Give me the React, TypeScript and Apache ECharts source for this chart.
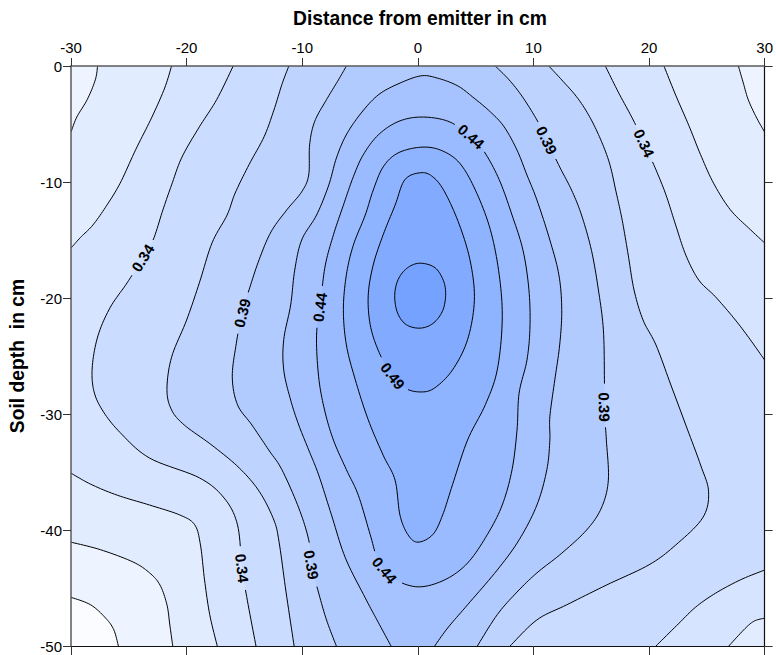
import React, { useEffect, useRef } from "react";
import * as echarts from "echarts";

// ---------- axis extents and ticks ----------
const X_MIN = -30;
const X_MAX = 30;
const X_STEP = 10;
const Y_MIN = -50;
const Y_MAX = 0;
const Y_STEP = 10;

const xTitle = "Distance from emitter in cm";
const yTitle = "Soil depth  in cm";

// ---------- contour levels and band colours ----------
const levels = [0.265, 0.29, 0.315, 0.34, 0.365, 0.39, 0.415, 0.44, 0.465, 0.49, 0.515];
const bandColors = [
  "#fbfcff", "#eef4ff", "#e2ecff", "#d6e4ff", "#cadcff", "#bed4ff",
  "#b2cbff", "#a6c3ff", "#9abbff", "#8eb3ff", "#82aaff", "#76a2ff",
];

// ---------- contour lines: [distance cm, depth cm] ----------
const c265BL = [[-30, -45.8], [-28.3, -46.45], [-27, -47.6], [-26.3, -48.6], [-25.9, -50]];
const c29TL = [[-27.7, 0], [-27.9, -1.2], [-28.6, -2.9], [-29.5, -4.4], [-30, -5.7]];
const c29BL = [[-30, -41.05], [-27.45, -41.7], [-24.65, -42.75], [-23.2, -43.7], [-22.3, -44.75], [-21.7, -46.45], [-21.45, -48.2], [-21.2, -50]];
const c29TR = [[27.73, 0], [28.15, -1.45], [28.58, -2.9], [29.27, -4.4], [30, -5.7]];
const c315L = [[-21.3, 0], [-21.9, -1.9], [-23, -4.4], [-24.4, -7.2], [-25.75, -10.1], [-26.9, -12], [-28.1, -13.7], [-29.2, -14.8], [-30, -15.7]];
const c315BL = [[-30, -35.1], [-28.3, -36.05], [-26, -37], [-23.2, -37.85], [-20.6, -38.7], [-19.3, -39.55], [-18.8, -41.3], [-18.45, -44.3], [-18, -47.3], [-17.35, -50]];
const c315R = [[21.29, 0], [22.3, -2.5], [23.43, -5.1], [24.46, -7.65], [25.58, -10.1], [27.04, -12.4], [28.76, -14.1], [30, -15.25]];
const c315BR = [[30, -47.6], [29.1, -47.85], [28.3, -48.5], [26.9, -50]];
const c34L = [[-15.97, 0], [-17.4, -2.9], [-18.9, -5.25], [-20.4, -7.85], [-21.3, -10.25], [-22.05, -12.4], [-22.9, -15], [-23.8, -16.55], [-25.15, -18.7], [-26.6, -20.8], [-27.65, -23.2], [-28.15, -25.8], [-28.05, -27.9], [-27.3, -29.65], [-25.75, -31.6], [-23.2, -33.8], [-18.9, -35.5], [-16.75, -37.25], [-15.6, -39.55], [-15.2, -43.3], [-14.75, -46.05], [-14, -50]];
const c34R1 = [[16.22, 0], [17.34, -2.25], [18.63, -4.65], [19.57, -6.65], [20.6, -8.95], [21.46, -11.1], [22.3, -13.7], [23.18, -16.3], [24.3, -18.45], [25.75, -19.9], [27.47, -21.9], [28.76, -23.6], [30, -25.35]];
const c34R2 = [[30, -43.45], [27.9, -44.3], [25.75, -45.45], [24.03, -46.65], [22.58, -48.05], [20.6, -50]];
const c365L = [[-11.16, 0], [-11.76, -1.6], [-12.45, -3.8], [-13.3, -6.1], [-14.6, -8.5], [-15.8, -10.95], [-16.5, -12.85], [-17.8, -15.25], [-18.9, -18.7], [-20, -21.9], [-21.3, -25.1], [-21.7, -27.9], [-21.3, -29.65], [-20.2, -30.95], [-17.8, -32.7], [-15.45, -34.65], [-13.7, -36.7], [-12.45, -39.15], [-12, -41.05], [-11.4, -45.35], [-10.7, -50]];
const c365R = [[11.33, 0], [12.45, -1.2], [13.73, -2.65], [14.76, -4.2], [15.71, -6.1], [16.57, -8.35], [17.17, -10.95], [17.68, -13.3], [18.2, -16.3], [18.7, -19.3], [19.48, -21.9], [20.6, -24.05], [21.89, -27.5], [23.18, -30.95], [24.46, -34.4], [25.15, -36.7], [24.64, -38.95], [22.3, -41.3], [20, -43], [16.31, -44.75], [12.88, -46.45], [10.3, -47.75], [7.98, -50]];
const c39L = [[-6.18, 0], [-6.87, -1.2], [-7.9, -2.9], [-8.93, -4.8], [-9.36, -6.8], [-9.44, -9.4], [-10.05, -10.85], [-11.33, -12.4], [-12.7, -14.3], [-13.73, -16.7], [-14.6, -19.3], [-15.2, -21.3], [-15.7, -23.9], [-16.05, -26.8], [-15.6, -29.2], [-14.35, -30.95], [-12.9, -33.1], [-11.76, -34.8], [-10.3, -38.1], [-9.44, -40.85], [-9.2, -43], [-8.6, -45.35], [-7.9, -47.75], [-7.05, -50]];
const c39R = [[6.7, 0], [7.9, -1.2], [9.01, -2.6], [10.3, -4.65], [11.16, -6.4], [12.27, -8.7], [13.3, -10.7], [14.16, -12.85], [15.02, -15.9], [15.62, -19.3], [16.05, -22.75], [16.14, -27.05], [16.14, -29.65], [16.31, -32.25], [16.48, -35.7], [15.88, -38.1], [14.6, -40], [12.45, -42], [10.3, -43.7], [8.58, -45.35], [6.87, -47.3], [5.15, -50]];
const c415 = [[-2.32, -50], [-3.43, -47.95], [-4.55, -45.85], [-6.27, -42.4], [-7.47, -38.7], [-8.58, -35.25], [-9.44, -33.1], [-10.3, -30.95], [-11, -28.8], [-11.6, -26.2], [-11.6, -23.6], [-11, -20.6], [-10.65, -17.6], [-10.05, -15], [-8.76, -12.85], [-7.7, -10.25], [-7.05, -7.95], [-6.2, -5.95], [-4.9, -4.05], [-3.43, -2.5], [-1.72, -1.55], [0.26, -0.85], [1.72, -1.05], [3.43, -1.7], [4.72, -2.65], [6.27, -3.95], [7.47, -5.25], [8.58, -7.25], [9.44, -9.4], [10.3, -11.55], [11.42, -15], [12.2, -18], [12.45, -21], [12.27, -24.05], [11.85, -27.05], [11.42, -30.25], [11.42, -32.25], [11.16, -34.8], [10.3, -37.85], [8.76, -40.85], [6.87, -43.45], [4.3, -46.45], [2.58, -48.45], [1.46, -50]];
const c44 = [[0.26, -4.4], [-1.72, -4.8], [-3.43, -5.95], [-4.72, -7.65], [-5.58, -9.55], [-6.44, -12], [-7.3, -14.55], [-8, -17.15], [-8.4, -20.2], [-8.76, -23.2], [-8.58, -26.8], [-8.07, -29.65], [-7.3, -32.25], [-6.18, -34.8], [-5.15, -37], [-4.12, -40.4], [-3.43, -42.6], [-2.15, -44.15], [0, -44.9], [2.32, -44.3], [4.3, -42.85], [6.01, -40.4], [7.3, -37.85], [8.15, -34.8], [8.58, -31.4], [8.76, -28.2], [9.44, -25.35], [9.7, -22.5], [9.61, -19.3], [9.1, -15.9], [8.15, -12.85], [7.04, -9.8], [5.75, -7.4], [4.46, -5.95], [2.58, -4.75]];
const c465 = [[0.26, -7], [-1.72, -7.5], [-3, -8.7], [-3.86, -10.7], [-4.55, -12.85], [-5.58, -15.45], [-6.18, -18], [-6.44, -21], [-6.18, -24.05], [-5.41, -27.05], [-4.29, -30.5], [-3, -33.55], [-1.97, -35.7], [-1.55, -38.7], [-0.86, -40.4], [0, -41.05], [1.29, -40.4], [2.15, -38.7], [3, -36.1], [4.3, -32.25], [5.84, -29.2], [6.87, -26.2], [7.3, -21.9], [7.04, -18], [6.27, -14.1], [4.98, -10.7], [3.6, -8.35], [1.97, -7.25]];
const c49 = [[0.26, -9.2], [-1.12, -9.8], [-1.97, -12], [-3, -14.55], [-3.86, -17.15], [-4.29, -19.75], [-4.12, -22.3], [-3.43, -24.5], [-2.4, -26.4], [-1.12, -27.75], [0.26, -28.1], [1.46, -27.75], [3, -26.2], [4.3, -23.6], [4.89, -20.2], [4.55, -16.9], [3.6, -13.7], [2.32, -10.85], [1.29, -9.55]];
const c515 = [[0.2, -17], [1.5, -17.4], [2.25, -18.6], [2.4, -19.9], [2.1, -21.2], [1.3, -22.2], [0.2, -22.6], [-1.0, -22.3], [-1.75, -21.3], [-2.0, -19.8], [-1.7, -18.4], [-0.9, -17.4]];

const curves: Record<string, { pts: number[][]; level: number; closed?: boolean }> = {
  c265BL: { pts: c265BL, level: levels[0] },
  c29TL: { pts: c29TL, level: levels[1] },
  c29BL: { pts: c29BL, level: levels[1] },
  c29TR: { pts: c29TR, level: levels[1] },
  c315L: { pts: c315L, level: levels[2] },
  c315BL: { pts: c315BL, level: levels[2] },
  c315R: { pts: c315R, level: levels[2] },
  c315BR: { pts: c315BR, level: levels[2] },
  c34L: { pts: c34L, level: levels[3] },
  c34R1: { pts: c34R1, level: levels[3] },
  c34R2: { pts: c34R2, level: levels[3] },
  c365L: { pts: c365L, level: levels[4] },
  c365R: { pts: c365R, level: levels[4] },
  c39L: { pts: c39L, level: levels[5] },
  c39R: { pts: c39R, level: levels[5] },
  c415: { pts: c415, level: levels[6] },
  c44: { pts: c44, level: levels[7], closed: true },
  c465: { pts: c465, level: levels[8], closed: true },
  c49: { pts: c49, level: levels[9], closed: true },
  c515: { pts: c515, level: levels[10], closed: true },
};
const curveNames = Object.keys(curves);

// regions "value above level", built from the contour lines and the plot corners
const regions: { band: number; parts: any[] }[] = [
  { band: 1, parts: [{ c: "c265BL" }, { p: [X_MAX, Y_MIN] }, { p: [X_MAX, Y_MAX] }, { p: [X_MIN, Y_MAX] }] },
  { band: 2, parts: [{ c: "c29TL" }, { c: "c29BL" }, { p: [X_MAX, Y_MIN] }, { c: "c29TR", rev: true }] },
  { band: 3, parts: [{ c: "c315L" }, { c: "c315BL" }, { c: "c315BR", rev: true }, { c: "c315R", rev: true }] },
  { band: 4, parts: [{ c: "c34L" }, { c: "c34R2", rev: true }, { c: "c34R1", rev: true }] },
  { band: 5, parts: [{ c: "c365L" }, { c: "c365R", rev: true }] },
  { band: 6, parts: [{ c: "c39L" }, { c: "c39R", rev: true }] },
  { band: 7, parts: [{ c: "c415" }] },
  { band: 8, parts: [{ c: "c44" }] },
  { band: 9, parts: [{ c: "c465" }] },
  { band: 10, parts: [{ c: "c49" }] },
  { band: 11, parts: [{ c: "c515" }] },
];

// contour label positions
const contourLabels = [
  { curve: "c44", at: [4.46, -6.2] },
  { curve: "c39R", at: [11.16, -6.4] },
  { curve: "c34R1", at: [19.57, -6.7] },
  { curve: "c34L", at: [-23.8, -16.55] },
  { curve: "c39L", at: [-15.2, -21.3] },
  { curve: "c44", at: [-8.5, -20.8] },
  { curve: "c49", at: [-1.9, -26.45] },
  { curve: "c39R", at: [16.14, -29.4] },
  { curve: "c34L", at: [-15.2, -43.3] },
  { curve: "c39L", at: [-9.2, -43.0] },
  { curve: "c44", at: [-2.6, -43.3] },
];

const FAMILY = '"Liberation Sans", Arial, sans-serif';
const GAP = 20;

function densify(pts: number[][], closed: boolean, steps = 10): number[][] {
  const n = pts.length;
  const out: number[][] = [];
  const get = (i: number) => (closed ? pts[((i % n) + n) % n] : pts[Math.max(0, Math.min(n - 1, i))]);
  const segs = closed ? n : n - 1;
  for (let i = 0; i < segs; i++) {
    const p0 = get(i - 1), p1 = get(i), p2 = get(i + 1), p3 = get(i + 2);
    for (let s = 0; s < steps; s++) {
      const t = s / steps, t2 = t * t, t3 = t2 * t;
      const f = (k: number) =>
        0.5 * (2 * p1[k] + (-p0[k] + p2[k]) * t + (2 * p0[k] - 5 * p1[k] + 4 * p2[k] - p3[k]) * t2 + (-p0[k] + 3 * p1[k] - 3 * p2[k] + p3[k]) * t3);
      out.push([f(0), f(1)]);
    }
  }
  out.push(closed ? pts[0] : pts[n - 1]);
  return out;
}

export default function App() {
  const ref = useRef<HTMLDivElement>(null);
  useEffect(() => {
    if (!ref.current) return;
    const chart = echarts.init(ref.current, null, { renderer: "svg" });

    const fillRender = (params: any, api: any) => {
      const r = regions[params.dataIndex];
      const pts: number[][] = [];
      r.parts.forEach((p: any) => {
        if (p.c) {
          const c = curves[p.c];
          let d = densify(c.pts.map((v) => api.coord(v)), !!c.closed);
          if (p.rev) d = d.slice().reverse();
          pts.push(...d);
        } else {
          pts.push(api.coord(p.p));
        }
      });
      return { type: "polygon", shape: { points: pts }, style: { fill: bandColors[r.band], stroke: null } };
    };

    const lineRender = (params: any, api: any) => {
      const name = curveNames[params.dataIndex];
      const c = curves[name];
      const dense = densify(c.pts.map((v) => api.coord(v)), !!c.closed);
      const n = dense.length;
      const labs = contourLabels
        .filter((l) => l.curve === name)
        .map((l) => {
          const p = api.coord(l.at);
          let bi = 0, bd = Infinity;
          dense.forEach((q, i) => {
            const d = (q[0] - p[0]) ** 2 + (q[1] - p[1]) ** 2;
            if (d < bd) { bd = d; bi = i; }
          });
          const a = dense[Math.max(0, bi - 3)];
          const b = dense[Math.min(n - 1, bi + 3)];
          let ang = Math.atan2(b[1] - a[1], b[0] - a[0]);
          if (ang > Math.PI / 2) ang -= Math.PI;
          if (ang < -Math.PI / 2) ang += Math.PI;
          return { c: dense[bi], ang, text: c.level.toFixed(2) };
        });
      const children: any[] = [];
      let run: number[][] = [];
      const flush = () => {
        if (run.length > 1)
          children.push({ type: "polyline", shape: { points: run }, style: { stroke: "#000", lineWidth: 1, fill: null } });
        run = [];
      };
      dense.forEach((q) => {
        const inGap = labs.some((l) => Math.hypot(q[0] - l.c[0], q[1] - l.c[1]) < GAP);
        if (inGap) flush();
        else run.push(q);
      });
      flush();
      labs.forEach((l) =>
        children.push({
          type: "text",
          x: l.c[0],
          y: l.c[1],
          rotation: -l.ang,
          style: {
            text: l.text, fill: "#000",
            font: 'bold 15px "Liberation Sans", Arial, sans-serif',
            fontSize: 15, fontWeight: "bold", fontFamily: FAMILY,
            align: "center", verticalAlign: "middle", textAlign: "center", textVerticalAlign: "middle",
          },
        })
      );
      return { type: "group", children };
    };

    const axisCommon = {
      type: "value" as const,
      splitLine: { show: false },
      z: 10,
    };

    chart.setOption({
      animation: false,
      grid: { left: 71, right: 6, top: 66, bottom: 9, show: true, backgroundColor: bandColors[0], borderWidth: 0 },
      xAxis: [
        {
          ...axisCommon, position: "top", min: X_MIN, max: X_MAX, interval: X_STEP,
          axisLine: { show: true, onZero: false, lineStyle: { color: "#5a5a5a", width: 1.5 } },
          axisTick: { show: true, inside: false, length: 8, lineStyle: { color: "#333", width: 1 } },
          axisLabel: { show: true, color: "#000", fontSize: 15, fontFamily: FAMILY, margin: 11 },
        },
        {
          ...axisCommon, position: "bottom", min: X_MIN, max: X_MAX, interval: X_STEP,
          axisLine: { show: true, onZero: false, lineStyle: { color: "#111", width: 1.2 } },
          axisTick: { show: true, inside: false, length: 9, lineStyle: { color: "#333", width: 1 } },
          axisLabel: { show: false },
        },
      ],
      yAxis: [
        {
          ...axisCommon, position: "left", min: Y_MIN, max: Y_MAX, interval: Y_STEP,
          axisLine: { show: true, onZero: false, lineStyle: { color: "#5a5a5a", width: 1.5 } },
          axisTick: { show: true, inside: false, length: 8, lineStyle: { color: "#333", width: 1 } },
          axisLabel: { show: true, color: "#000", fontSize: 15, fontFamily: FAMILY, margin: 9 },
        },
        {
          ...axisCommon, position: "right", min: Y_MIN, max: Y_MAX, interval: Y_STEP,
          axisLine: { show: true, onZero: false, lineStyle: { color: "#111", width: 1.2 } },
          axisTick: { show: true, inside: false, length: 8, lineStyle: { color: "#333", width: 1 } },
          axisLabel: { show: false },
        },
      ],
      graphic: [
        {
          type: "text", x: 420, y: 18, z: 20,
          style: {
            text: xTitle, fill: "#000",
            font: 'bold 19.3px "Liberation Sans", Arial, sans-serif',
            fontSize: 19.3, fontWeight: "bold", fontFamily: FAMILY,
            align: "center", verticalAlign: "middle", textAlign: "center", textVerticalAlign: "middle",
          },
        },
        {
          type: "text", x: 17, y: 356, rotation: Math.PI / 2, z: 20,
          style: {
            text: yTitle, fill: "#000",
            font: 'bold 19.3px "Liberation Sans", Arial, sans-serif',
            fontSize: 19.3, fontWeight: "bold", fontFamily: FAMILY,
            align: "center", verticalAlign: "middle", textAlign: "center", textVerticalAlign: "middle",
          },
        },
      ],
      series: [
        {
          type: "custom", name: "bands", xAxisIndex: 0, yAxisIndex: 0, clip: true, z: 1, silent: true,
          renderItem: fillRender,
          data: regions.map(() => [0, -25]),
        },
        {
          type: "custom", name: "contours", xAxisIndex: 0, yAxisIndex: 0, clip: true, z: 2, silent: true,
          renderItem: lineRender,
          data: curveNames.map(() => [0, -25]),
        },
      ],
    });
    return () => chart.dispose();
  }, []);
  return <div ref={ref} style={{ position: "absolute", left: 0, top: 0, width: 776, height: 655 }} />;
}
